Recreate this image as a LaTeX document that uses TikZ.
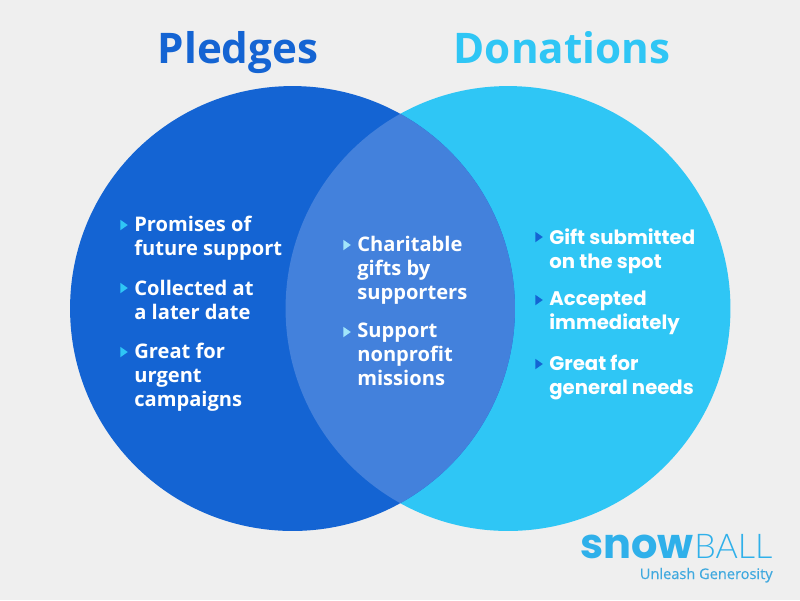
\documentclass[tikz,border=0pt]{standalone}
\usepackage{fontspec}
\setmainfont{Open Sans}[BoldFont={Open Sans Bold}]
\newfontfamily\logofont{Poppins}[BoldFont={Poppins Bold}]
\newfontfamily\logolight{Lato Light}
\newfontfamily\rightfont{Poppins}[BoldFont={Poppins Bold}]
\newfontfamily\tagfont{Open Sans}[FakeBold=0.35]
\definecolor{bgc}{HTML}{EFEFEF}
\definecolor{pblue}{HTML}{1464D3}
\definecolor{dblue}{HTML}{2FC6F5}
\definecolor{mblue}{HTML}{4381DC}
\definecolor{logoc}{HTML}{2FB0EA}
\definecolor{taglc}{HTML}{3FA9DF}
\tikzset{
 x=0.02cm,y=-0.02cm,
 head/.style={font=\fontsize{24pt}{28pt}\selectfont\bfseries,inner sep=0,anchor=base},
 item/.style={font=\fontsize{11.45pt}{13.65pt}\selectfont\bfseries,text=white,anchor=north west,inner sep=0,align=left},
 ritem/.style={font=\fontsize{11.2pt}{13.65pt}\selectfont\rightfont\bfseries,text=white,anchor=north west,inner sep=0,align=left},
 bull/.style={fill=#1,draw=none,isosceles triangle,isosceles triangle apex angle=70,minimum height=0.15cm,minimum width=0.17cm,inner sep=0},
}
\usetikzlibrary{shapes.geometric}
\begin{document}
\begin{tikzpicture}
\useasboundingbox (0,0) rectangle (800,600);
\fill[bgc] (0,0) rectangle (800,600);
\coordinate (cl) at (292.5,308.5);
\coordinate (cr) at (508,308.5);
\fill[dblue] (cr) circle[radius=4.45cm];
\fill[pblue] (cl) circle[radius=4.45cm];
\begin{scope}
\clip (cl) circle[radius=4.45cm];
\fill[mblue] (cr) circle[radius=4.45cm];
\end{scope}
\node[head,text=pblue] (t1) at (238,63) {Pledges};
\node[head,text=dblue] (t2) at (562,63) {Donations};
% left
\node[bull=dblue] (b1) at (123,225) {};
\node[bull=dblue] (b2) at (123,288) {};
\node[bull=dblue] (b3) at (123,352) {};
\node[item] (l1) at (134,216) {Promises of\\future support};
\node[item] (l2) at (134,279.5) {Collected at\\a later date};
\node[item] (l3) at (134,343) {Great for\\urgent\\campaigns};
% middle
\node[bull=dblue!45!white] (b4) at (346,245) {};
\node[bull=dblue!45!white] (b5) at (346,332) {};
\node[item] (m1) at (357,236) {Charitable\\gifts by\\supporters};
\node[item] (m2) at (357,323) {Support\\nonprofit\\missions};
% right
\node[bull=pblue] (b6) at (538,237) {};
\node[bull=pblue] (b7) at (538,300) {};
\node[bull=pblue] (b8) at (538,364) {};
\node[ritem] (r1) at (549,228) {Gift submitted\\on the spot};
\node[ritem] (r2) at (549,291) {Accepted\\immediately};
\node[ritem] (r3) at (549,355) {Great for\\general needs};
% logo
\node[anchor=base west,inner sep=0,text=logoc,font=\fontsize{23.6pt}{23pt}\selectfont\logofont\bfseries] (lg1) at (580,558) {snow};
\node[anchor=base west,inner sep=0,text=logoc,font=\fontsize{19.4pt}{19pt}\selectfont\logolight] (lg2) at (694,558) {BALL};
\node[anchor=base east,inner sep=0,text=taglc,font=\fontsize{8.3pt}{10pt}\selectfont\tagfont] (tag) at (773,579) {Unleash Generosity};
\end{tikzpicture}
\end{document}
